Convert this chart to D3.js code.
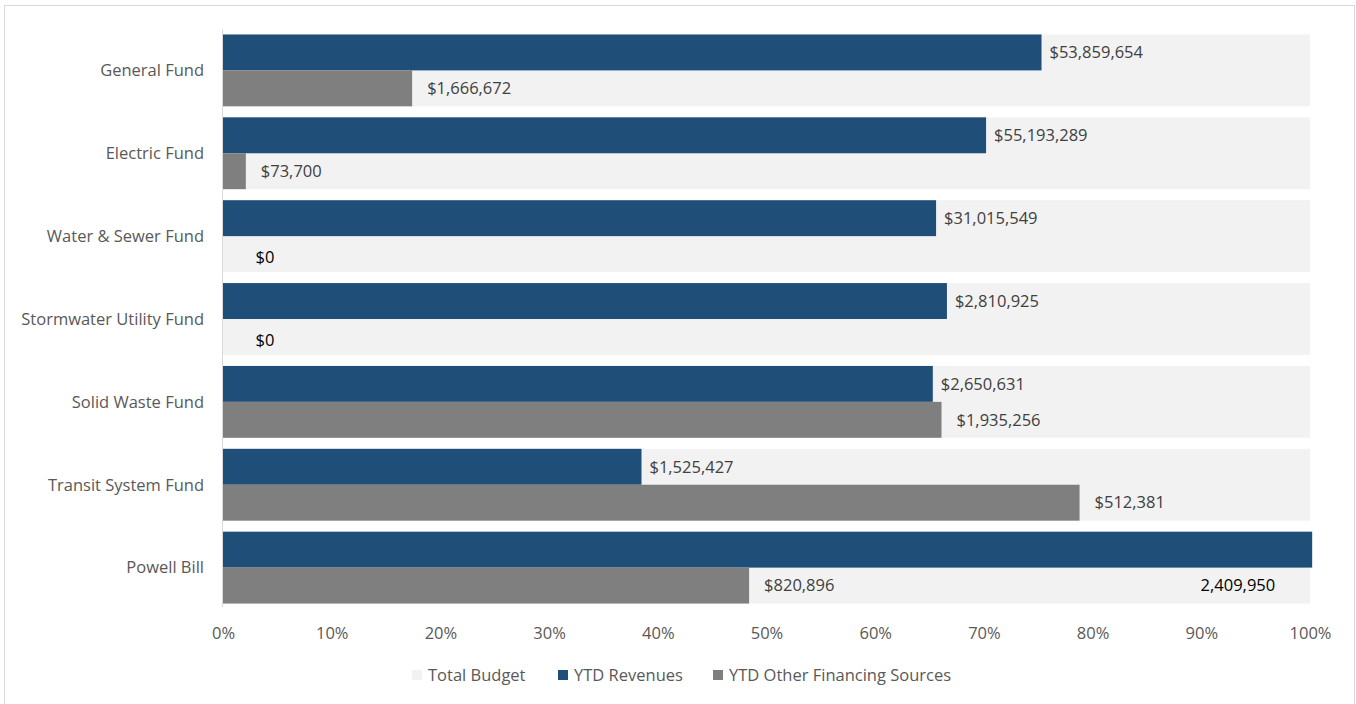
<!DOCTYPE html>
<html>
<head>
<meta charset="utf-8">
<script src="https://cdn.jsdelivr.net/npm/d3@7"></script>
<style>
  body { margin: 0; background: #fff; }
  text { font-family: "Open Sans", sans-serif; }
</style>
</head>
<body>
<svg id="chart" width="1356" height="704"></svg>
<script>
var funds = ["General Fund", "Electric Fund", "Water & Sewer Fund", "Stormwater Utility Fund",
  "Solid Waste Fund", "Transit System Fund", "Powell Bill"];
var budgetPct = [1, 1, 1, 1, 1, 1, 1];
var revenuePct = [0.753, 0.702, 0.656, 0.666, 0.653, 0.385, 1.002];
var otherPct = [0.174, 0.021, 0, 0, 0.661, 0.788, 0.484];
var revenueLabels = ["$53,859,654", "$55,193,289", "$31,015,549", "$2,810,925", "$2,650,631", "$1,525,427", "2,409,950"];
var otherLabels = ["$1,666,672", "$73,700", "$0", "$0", "$1,935,256", "$512,381", "$820,896"];
var tickValues = [0, 0.1, 0.2, 0.3, 0.4, 0.5, 0.6, 0.7, 0.8, 0.9, 1];
var seriesNames = ["Total Budget", "YTD Revenues", "YTD Other Financing Sources"];

var colors = { budget: "#f2f2f2", revenue: "#1f4e79", other: "#7f7f7f" };
var fontSize = 16.5;

var svg = d3.select("#chart");

// chart frame
svg.append("rect")
  .attr("x", 4.5).attr("y", 5.5)
  .attr("width", 1350).attr("height", 702)
  .attr("fill", "#fff").attr("stroke", "#d9d9d9");

var x = d3.scaleLinear().domain([0, 1]).range([223, 1310]);
var y = d3.scaleBand().domain(funds).range([29, 609]).paddingInner(0.133).paddingOuter(0.066);
var half = y.bandwidth() / 2;

var rows = funds.map(function (f, i) {
  return { fund: f, budget: budgetPct[i], rev: revenuePct[i], other: otherPct[i],
    revLabel: revenueLabels[i], otherLabel: otherLabels[i] };
});

// total budget background
svg.append("g").selectAll("rect").data(rows).enter().append("rect")
  .attr("x", x(0))
  .attr("y", function (d) { return y(d.fund); })
  .attr("width", function (d) { return x(d.budget) - x(0); })
  .attr("height", y.bandwidth())
  .attr("fill", colors.budget);

svg.append("g").selectAll("rect").data(rows).enter().append("rect")
  .attr("x", x(0))
  .attr("y", function (d) { return y(d.fund); })
  .attr("width", function (d) { return x(d.rev) - x(0); })
  .attr("height", half)
  .attr("fill", colors.revenue);

svg.append("g").selectAll("rect").data(rows).enter().append("rect")
  .attr("x", x(0))
  .attr("y", function (d) { return y(d.fund) + half; })
  .attr("width", function (d) { return x(d.other) - x(0); })
  .attr("height", half)
  .attr("fill", colors.other);

// left axis line
svg.append("line")
  .attr("x1", 222.5).attr("x2", 222.5)
  .attr("y1", 29).attr("y2", 607)
  .attr("stroke", "#d9d9d9").attr("stroke-width", 1);

// category labels
svg.append("g").selectAll("text").data(rows).enter().append("text")
  .attr("x", 204)
  .attr("y", function (d) { return y(d.fund) + half; })
  .attr("dy", "0.35em")
  .attr("text-anchor", "end")
  .attr("font-size", fontSize)
  .attr("fill", "#595959")
  .text(function (d) { return d.fund; });

// revenue labels
svg.append("g").selectAll("text").data(rows).enter().append("text")
  .attr("x", function (d) { return d.rev > 1 ? x(0.968) : x(d.rev) + 8; })
  .attr("y", function (d) { return d.rev > 1 ? y(d.fund) + half * 1.5 : y(d.fund) + half / 2; })
  .attr("dy", "0.35em")
  .attr("text-anchor", function (d) { return d.rev > 1 ? "end" : "start"; })
  .attr("font-size", fontSize)
  .attr("fill", function (d) { return d.rev > 1 ? "#000" : "#404040"; })
  .text(function (d) { return d.revLabel; });

// other financing labels
svg.append("g").selectAll("text").data(rows).enter().append("text")
  .attr("x", function (d) { return d.other === 0 ? x(0.03) : x(d.other) + 15; })
  .attr("y", function (d) { return y(d.fund) + half * 1.5 + (d.other === 0 ? 3 : 0); })
  .attr("dy", "0.35em")
  .attr("font-size", fontSize)
  .attr("fill", function (d) { return d.other === 0 ? "#000" : "#404040"; })
  .text(function (d) { return d.otherLabel; });

// x axis tick labels
var xAxis = d3.axisBottom(x).tickValues(tickValues).tickFormat(d3.format(".0%")).tickSize(0).tickPadding(0);
var gx = svg.append("g").attr("transform", "translate(0,633)").call(xAxis);
gx.select(".domain").remove();
gx.selectAll("text")
  .attr("dy", "0.35em")
  .attr("font-size", fontSize)
  .attr("font-family", "Open Sans, sans-serif")
  .attr("fill", "#595959");

// legend
var legendX = [412, 558, 713];
var legendColors = [colors.budget, colors.revenue, colors.other];
var lg = svg.append("g").selectAll("g").data(seriesNames).enter().append("g")
  .attr("transform", function (d, i) { return "translate(" + legendX[i] + ",675)"; });
lg.append("rect")
  .attr("x", 0).attr("y", -5).attr("width", 10).attr("height", 10)
  .attr("fill", function (d, i) { return legendColors[i]; });
lg.append("text")
  .attr("x", 16).attr("dy", "0.35em")
  .attr("font-size", fontSize)
  .attr("fill", "#595959")
  .text(function (d) { return d; });
</script>
</body>
</html>
